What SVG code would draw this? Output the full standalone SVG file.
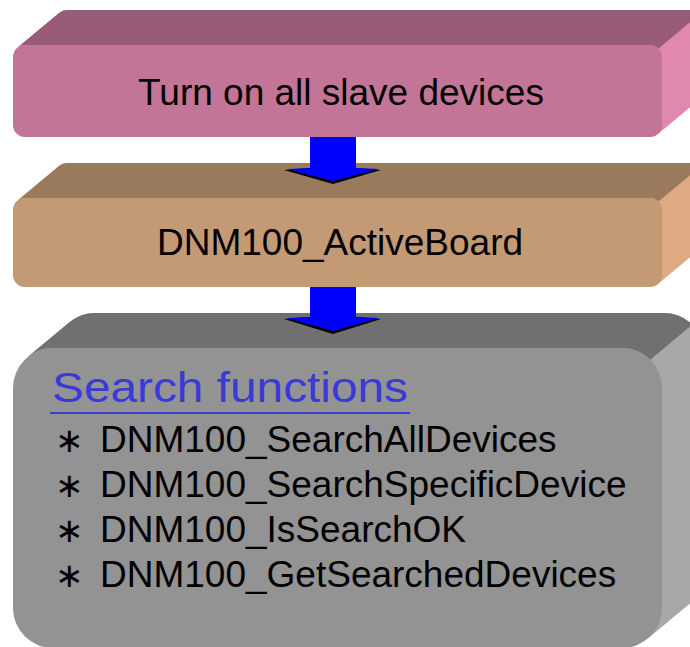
<svg xmlns="http://www.w3.org/2000/svg" width="690" height="647" viewBox="0 0 690 647">
<style>
.lbl{font-family:"Liberation Sans",Arial,sans-serif;font-size:37px;fill:#000}
.ast{font-family:"Noto Sans CJK JP","DejaVu Sans",sans-serif;font-size:34px}
.head{font-family:"Liberation Sans",Arial,sans-serif;font-size:42px;fill:#3a3ad8}
.arrow{fill:#0000ff}
.shadow{fill:#000}
</style>
<rect width="690" height="647" fill="#ffffff"/>
<g id="node-turn-on">
  <rect x="55" y="10" width="649" height="92" rx="12" fill="#e088b0"/>
  <polygon points="17.32,47.78 59.32,12.78 699.68,99.22 657.68,134.22" fill="#e088b0"/>
  <path d="M17.32,47.78 A12 12 0 0 1 25,45 L650,45 A12 12 0 0 1 658.48,48.52 L700.48,13.52 A12 12 0 0 0 692,10 L67,10 A12 12 0 0 0 59.32,12.78 Z" fill="#985c78"/>
  <rect x="13" y="45" width="649" height="92" rx="12" fill="#c37598"/>
  <text class="lbl" x="341" y="105" text-anchor="middle">Turn on all slave devices</text>
</g>
<g id="node-activeboard">
  <rect x="55" y="163" width="649" height="89" rx="12" fill="#deaa84"/>
  <polygon points="17.32,200.78 59.32,165.78 699.68,249.22 657.68,284.22" fill="#deaa84"/>
  <path d="M17.32,200.78 A12 12 0 0 1 25,198 L650,198 A12 12 0 0 1 658.48,201.52 L700.48,166.52 A12 12 0 0 0 692,163 L67,163 A12 12 0 0 0 59.32,165.78 Z" fill="#9a7a5c"/>
  <rect x="13" y="198" width="649" height="89" rx="12" fill="#c49a74"/>
  <text class="lbl" x="340" y="255" text-anchor="middle">DNM100_ActiveBoard</text>
</g>
<g id="node-search">
  <rect x="55" y="313" width="649" height="300" rx="40" fill="#a8a8a8"/>
  <polygon points="27.4,357.28 69.4,322.28 689.6,603.72 647.6,638.72" fill="#a8a8a8"/>
  <path d="M27.4,357.28 A40 40 0 0 1 53,348 L622,348 A40 40 0 0 1 650.28,359.72 L692.28,324.72 A40 40 0 0 0 664,313 L95,313 A40 40 0 0 0 69.4,322.28 Z" fill="#707070"/>
  <rect x="13" y="348" width="649" height="300" rx="40" fill="#939393"/>
  <text class="head" x="52" y="402" textLength="356" lengthAdjust="spacingAndGlyphs">Search functions</text>
  <line x1="50" y1="413" x2="410" y2="413" stroke="#3a3ad8" stroke-width="2"/>
  <text class="lbl" x="55" y="452"><tspan class="ast">∗</tspan><tspan x="100">DNM100_SearchAllDevices</tspan></text>
  <text class="lbl" x="55" y="497"><tspan class="ast">∗</tspan><tspan x="100">DNM100_SearchSpecificDevice</tspan></text>
  <text class="lbl" x="55" y="542"><tspan class="ast">∗</tspan><tspan x="100">DNM100_IsSearchOK</tspan></text>
  <text class="lbl" x="55" y="587"><tspan class="ast">∗</tspan><tspan x="100">DNM100_GetSearchedDevices</tspan></text>
</g>
<g id="connectors">
  <g id="arrow-1">
    <polygon class="shadow" points="284,170 310,168 356,168 381,170 333,184"/>
    <path class="arrow" d="M310,137 L356,137 L356,168 L379,169 L333,181 L287,169 L310,168 Z"/>
  </g>
  <g id="arrow-2">
    <polygon class="shadow" points="284,319 310,317 356,317 381,319 333,334"/>
    <path class="arrow" d="M310,287 L356,287 L356,317 L379,318 L333,331 L287,318 L310,317 Z"/>
  </g>
</g>
</svg>
